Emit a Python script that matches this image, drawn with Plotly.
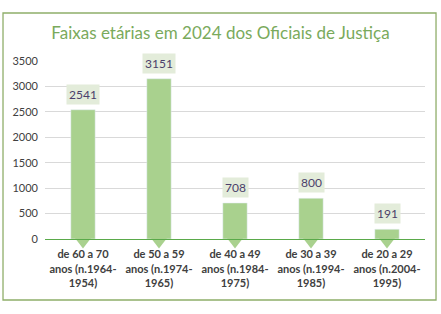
import plotly.graph_objects as go

categories = [
    "de 60 a 70<br>anos (n.1964-<br>1954)",
    "de 50 a 59<br>anos (n.1974-<br>1965)",
    "de 40 a 49<br>anos (n.1984-<br>1975)",
    "de 30 a 39<br>anos (n.1994-<br>1985)",
    "de 20 a 29<br>anos (n.2004-<br>1995)",
]
values = [2541, 3151, 708, 800, 191]
y_ticks = [0, 500, 1000, 1500, 2000, 2500, 3000, 3500]

BAR = "#a9d18e"
FONT = "Lato, 'Open Sans', sans-serif"

fig = go.Figure()
fig.add_trace(go.Bar(x=categories, y=values, marker_color=BAR, width=0.32,
                     hoverinfo="skip"))
fig.add_trace(go.Scatter(x=categories, y=[0] * len(values), mode="markers",
                         marker=dict(symbol="triangle-down", size=19, color=BAR,
                                     line=dict(width=0)),
                         cliponaxis=False, hoverinfo="skip"))

for c, v in zip(categories, values):
    fig.add_annotation(x=c, y=v, text=str(v), showarrow=False, yanchor="bottom",
                       yshift=5, bgcolor="#e3ecda", borderpad=2,
                       font=dict(family=FONT, size=12, color="#4b3f6b"))

fig.add_shape(type="rect", xref="paper", yref="paper", x0=-0.1105, x1=1.029,
              y0=-0.3427, y1=1.2697, line=dict(color="#8fae6a", width=1.3),
              fillcolor="rgba(0,0,0,0)", layer="below")

fig.update_layout(
    width=441, height=314,
    margin=dict(l=45, r=16, t=61, b=75),
    paper_bgcolor="white", plot_bgcolor="white",
    showlegend=False,
    title=dict(text="Faixas etárias em 2024 dos Oficiais de Justiça",
               x=0.5, xanchor="center", y=0.895, yanchor="middle",
               font=dict(family=FONT, size=17, color="#7aaa5c")),
    font=dict(family=FONT),
)
fig.update_yaxes(range=[0, 3500], tickvals=y_ticks, showgrid=True,
                 gridcolor="#d9d9d9", gridwidth=1, zeroline=False,
                 showline=False, ticks="", ticklabelstandoff=6,
                 tickfont=dict(family=FONT, size=11, color="#404040"))
fig.update_xaxes(showline=True, linecolor="#5aaa4a", linewidth=1.3,
                 ticks="", ticklabelstandoff=5, layer="above traces",
                 tickfont=dict(family=FONT, size=11, color="#404040", weight="bold"))

fig.write_html("out.html")
